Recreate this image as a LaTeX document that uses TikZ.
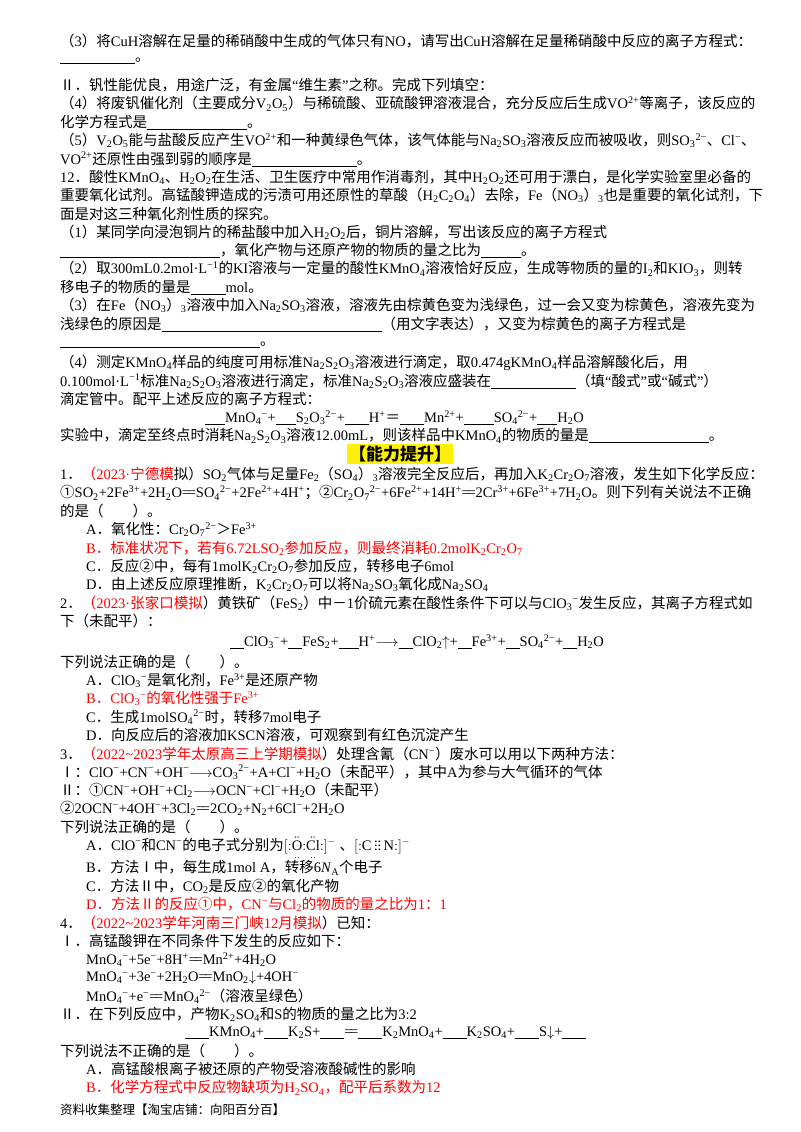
\documentclass[tikz,border=0pt]{standalone}
\usepackage{amsmath}
\usepackage{fontspec}
\setmainfont{Liberation Serif}
\newfontfamily\cjk{Noto Sans CJK SC}
\usepackage{tikz}
% automatic switch to the CJK family
\XeTeXinterchartokenstate=1
\newXeTeXintercharclass\CJKclass
\newcommand{\setcjkrange}[2]{\count255=#1\relax
  \loop\XeTeXcharclass\count255=\CJKclass\relax
  \ifnum\count255<#2\advance\count255 by 1\repeat}
\setcjkrange{"4E00}{"9FFF}
\setcjkrange{"3000}{"303F}
\setcjkrange{"FF00}{"FFEF}
\setcjkrange{"2460}{"24FF}
\setcjkrange{"2160}{"217F}
\XeTeXinterchartoks 0 \CJKclass = {\cjk}
\XeTeXinterchartoks 4095 \CJKclass = {\cjk}
\XeTeXinterchartoks \CJKclass 0 = {\rmfamily}
\XeTeXinterchartoks \CJKclass 4095 = {\rmfamily}
\newcommand{\xd}[1]{\textsubscript{#1}}
\newcommand{\xu}[1]{\textsuperscript{#1}}
\newcommand{\blank}[1]{\rule[-2pt]{#1pt}{0.5pt}\relax}
\newcommand{\eqq}{$\Relbar\joinrel\Relbar$}
\newcommand{\lto}{$\longrightarrow$}

\tikzset{
  line/.style={anchor=west, inner sep=0pt, font=\fontsize{14.5}{16}\selectfont},
  ans/.style={line, text=red},
}

\begin{document}
\begin{tikzpicture}[x=1pt,y=-1.0185pt]
\useasboundingbox (0,0) rectangle (800,1111.4);
\node[line] (l1) at (60,40) {（3）将CuH溶解在足量的稀硝酸中生成的气体只有NO，请写出CuH溶解在足量稀硝酸中反应的离子方程式：};
\node[line] (l2) at (60,60) {\blank{75}。};
\node[line] (l3) at (60,84) {Ⅱ．钒性能优良，用途广泛，有金属“维生素”之称。完成下列填空：};
\node[line] (l4) at (60,102) {（4）将废钒催化剂（主要成分V\xd{2}O\xd{5}）与稀硫酸、亚硫酸钾溶液混合，充分反应后生成VO\xu{2+}等离子，该反应的};
\node[line] (l5) at (60,120) {化学方程式是\blank{100}。};
\node[line] (l6) at (60,138) {（5）V\xd{2}O\xd{5}能与盐酸反应产生VO\xu{2+}和一种黄绿色气体，该气体能与Na\xd{2}SO\xd{3}溶液反应而被吸收，则SO\xd{3}\xu{2−}、Cl\xu{−}、};
\node[line] (l7) at (60,156) {VO\xu{2+}还原性由强到弱的顺序是\blank{105}。};
\node[line] (l8) at (60,174) {12．酸性KMnO\xd{4}、H\xd{2}O\xd{2}在生活、卫生医疗中常用作消毒剂，其中H\xd{2}O\xd{2}还可用于漂白，是化学实验室里必备的};
\node[line] (l9) at (60,192) {重要氧化试剂。高锰酸钾造成的污渍可用还原性的草酸（H\xd{2}C\xd{2}O\xd{4}）去除，Fe（NO\xd{3}）\xd{3}也是重要的氧化试剂，下};
\node[line] (l10) at (60,210) {面是对这三种氧化剂性质的探究。};
\node[line] (l11) at (60,228) {（1）某同学向浸泡铜片的稀盐酸中加入H\xd{2}O\xd{2}后，铜片溶解，写出该反应的离子方程式};
\node[line] (l12) at (60,246) {\blank{160}，氧化产物与还原产物的物质的量之比为\blank{40}。};
\node[line] (l13) at (60,264) {（2）取300mL0.2mol·L\xu{−1}的KI溶液与一定量的酸性KMnO\xd{4}溶液恰好反应，生成等物质的量的I\xd{2}和KIO\xd{3}，则转};
\node[line] (l14) at (60,282) {移电子的物质的量是\blank{35}mol。};
\node[line] (l15) at (60,300) {（3）在Fe（NO\xd{3}）\xd{3}溶液中加入Na\xd{2}SO\xd{3}溶液，溶液先由棕黄色变为浅绿色，过一会又变为棕黄色，溶液先变为};
\node[line] (l16) at (60,318) {浅绿色的原因是\blank{220}（用文字表达），又变为棕黄色的离子方程式是};
\node[line] (l17) at (60,338) {\blank{200}。};
\node[line] (l18) at (60,356) {（4）测定KMnO\xd{4}样品的纯度可用标准Na\xd{2}S\xd{2}O\xd{3}溶液进行滴定，取0.474gKMnO\xd{4}样品溶解酸化后，用};
\node[line] (l19) at (60,374) {0.100mol·L\xu{−1}标准Na\xd{2}S\xd{2}O\xd{3}溶液进行滴定，标准Na\xd{2}S\xd{2}O\xd{3}溶液应盛装在\blank{85}（填“酸式”或“碱式”）};
\node[line] (l20) at (60,392) {滴定管中。配平上述反应的离子方程式：};
\node[line] (l21) at (205,410) {\blank{20}MnO\xd{4}\xu{−}+\blank{20}S\xd{2}O\xd{3}\xu{2−}+\blank{24}H\xu{+}＝\blank{24}Mn\xu{2+}+\blank{30}SO\xd{4}\xu{2−}+\blank{20}H\xd{2}O};
\node[line] (l22) at (60,428) {实验中，滴定至终点时消耗Na\xd{2}S\xd{2}O\xd{3}溶液12.00mL，则该样品中KMnO\xd{4}的物质的量是\blank{120}。};
\node[line, anchor=center, fill=yellow, inner sep=2pt, font=\fontsize{17}{18}\selectfont\bfseries] (l23) at (400,446) {【能力提升】};
\node[line] (l24) at (60,466) {1．{\color{red}（2023·宁德模}拟）SO\xd{2}气体与足量Fe\xd{2}（SO\xd{4}）\xd{3}溶液完全反应后，再加入K\xd{2}Cr\xd{2}O\xd{7}溶液，发生如下化学反应：};
\node[line] (l25) at (60,484) {①SO\xd{2}+2Fe\xu{3+}+2H\xd{2}O\eqq SO\xd{4}\xu{2−}+2Fe\xu{2+}+4H\xu{+}；②Cr\xd{2}O\xd{7}\xu{2−}+6Fe\xu{2+}+14H\xu{+}\eqq 2Cr\xu{3+}+6Fe\xu{3+}+7H\xd{2}O。则下列有关说法不正确};
\node[line] (l26) at (60,502) {的是（　　）。};
\node[line] (l27) at (86,520) {A．氧化性：Cr\xd{2}O\xd{7}\xu{2−}＞Fe\xu{3+}};
\node[ans] (l28) at (86,538) {B．标准状况下，若有6.72LSO\xd{2}参加反应，则最终消耗0.2molK\xd{2}Cr\xd{2}O\xd{7}};
\node[line] (l29) at (86,556) {C．反应②中，每有1molK\xd{2}Cr\xd{2}O\xd{7}参加反应，转移电子6mol};
\node[line] (l30) at (86,574) {D．由上述反应原理推断，K\xd{2}Cr\xd{2}O\xd{7}可以将Na\xd{2}SO\xd{3}氧化成Na\xd{2}SO\xd{4}};
\node[line] (l31) at (60,592) {2．{\color{red}（2023·张家口模拟}）黄铁矿（FeS\xd{2}）中－1价硫元素在酸性条件下可以与ClO\xd{3}\xu{−}发生反应，其离子方程式如};
\node[line] (l32) at (60,610) {下（未配平）：};
\node[line] (l33) at (230,630) {\blank{14}ClO\xd{3}\xu{−}+\blank{14}FeS\xd{2}+\blank{20}H\xu{+}\lto\blank{14}ClO\xd{2}$\uparrow$+\blank{14}Fe\xu{3+}+\blank{14}SO\xd{4}\xu{2−}+\blank{14}H\xd{2}O};
\node[line] (l34) at (60,650) {下列说法正确的是（　　）。};
\node[line] (l35) at (86,668) {A．ClO\xd{3}\xu{−}是氧化剂，Fe\xu{3+}是还原产物};
\node[ans] (l36) at (86,686) {B．ClO\xd{3}\xu{−}的氧化性强于Fe\xu{3+}};
\node[line] (l37) at (86,704) {C．生成1molSO\xd{4}\xu{2−}时，转移7mol电子};
\node[line] (l38) at (86,722) {D．向反应后的溶液加KSCN溶液，可观察到有红色沉淀产生};
\node[line] (l39) at (60,740) {3．{\color{red}（2022\textasciitilde 2023学年太原高三上学期模拟}）处理含氰（CN\xu{−}）废水可以用以下两种方法：};
\node[line] (l40) at (60,758) {Ⅰ：ClO\xu{−}+CN\xu{−}+OH\xu{−}\lto CO\xd{3}\xu{2−}+A+Cl\xu{−}+H\xd{2}O（未配平），其中A为参与大气循环的气体};
\node[line] (l41) at (60,776) {Ⅱ：①CN\xu{−}+OH\xu{−}+Cl\xd{2}\lto OCN\xu{−}+Cl\xu{−}+H\xd{2}O（未配平）};
\node[line] (l42) at (60,794) {②2OCN\xu{−}+4OH\xu{−}+3Cl\xd{2}\eqq 2CO\xd{2}+N\xd{2}+6Cl\xu{−}+2H\xd{2}O};
\node[line] (l43) at (60,812) {下列说法正确的是（　　）。};
\node[line] (l44) at (86,832) {A．ClO\xu{−}和CN\xu{−}的电子式分别为$[{:}\ddot{\underset{..}{\mathrm{O}}}{:}\ddot{\underset{..}{\mathrm{Cl}}}{:}]^-$~、$[{:}\mathrm{C}\,\vdots\vdots\,\mathrm{N}{:}]^-$};
\node[line] (l45) at (86,852) {B．方法Ⅰ中，每生成1mol A，转移6\textit{N}\xd{A}个电子};
\node[line] (l46) at (86,870) {C．方法Ⅱ中，CO\xd{2}是反应②的氧化产物};
\node[ans] (l47) at (86,888) {D．方法Ⅱ的反应①中，CN\xu{−}与Cl\xd{2}的物质的量之比为1：1};
\node[line] (l48) at (60,906) {4．{\color{red}（2022\textasciitilde 2023学年河南三门峡12月模拟}）已知：};
\node[line] (l49) at (60,924) {Ⅰ．高锰酸钾在不同条件下发生的反应如下：};
\node[line] (l50) at (86,942) {MnO\xd{4}\xu{−}+5e\xu{−}+8H\xu{+}\eqq Mn\xu{2+}+4H\xd{2}O};
\node[line] (l51) at (86,960) {MnO\xd{4}\xu{−}+3e\xu{−}+2H\xd{2}O\eqq MnO\xd{2}$\downarrow$+4OH\xu{−}};
\node[line] (l52) at (86,978) {MnO\xd{4}\xu{−}+e\xu{−}\eqq MnO\xd{4}\xu{2−}（溶液呈绿色）};
\node[line] (l53) at (60,996) {Ⅱ．在下列反应中，产物K\xd{2}SO\xd{4}和S的物质的量之比为3:2};
\node[line] (l54) at (185,1014) {\blank{24}KMnO\xd{4}+\blank{24}K\xd{2}S+\blank{24}\eqq\blank{24}K\xd{2}MnO\xd{4}+\blank{24}K\xd{2}SO\xd{4}+\blank{24}S$\downarrow$+\blank{24}};
\node[line] (l55) at (60,1032) {下列说法不正确的是（　　）。};
\node[line] (l56) at (86,1050) {A．高锰酸根离子被还原的产物受溶液酸碱性的影响};
\node[ans] (l57) at (86,1068) {B．化学方程式中反应物缺项为H\xd{2}SO\xd{4}，配平后系数为12};
\node[line, font=\fontsize{12.5}{13}\selectfont] (l58) at (60,1090) {资料收集整理【淘宝店铺：向阳百分百】};
\end{tikzpicture}
\end{document}
